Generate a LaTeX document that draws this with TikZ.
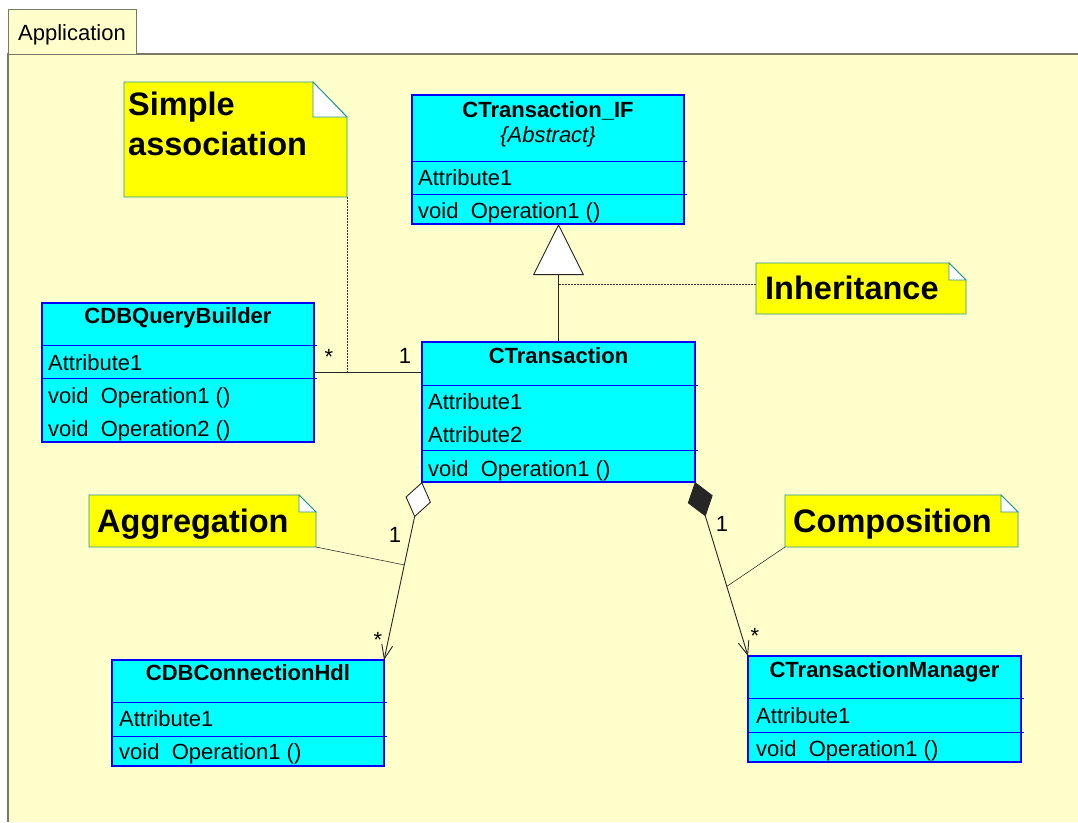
\documentclass[tikz,border=0pt]{standalone}
\usepackage{fontspec}
\setmainfont{Liberation Sans}
\usetikzlibrary{arrows.meta,calc}
\definecolor{pkgfill}{RGB}{255,255,204}
\definecolor{pkgline}{RGB}{120,120,104}
\definecolor{notefill}{RGB}{255,255,0}
\definecolor{noteedge}{RGB}{40,150,150}
\definecolor{classfill}{RGB}{0,255,255}
\definecolor{classedge}{RGB}{0,0,255}
\tikzset{
  classbox/.style={draw=classedge,fill=classfill,line width=1.2pt,inner sep=0pt,outer sep=0pt,anchor=north west},
  divider/.style={draw=classedge,line width=1pt},
  notebox/.style={inner sep=0pt,outer sep=0pt,anchor=north west},
  noteshape/.style={fill=notefill,draw=noteedge,line width=0.9pt},
  foldshape/.style={fill=white,draw=noteedge,line width=0.9pt},
  member/.style={inner sep=0pt,anchor=base west,font=\fontsize{22}{26}\selectfont},
  classname/.style={inner sep=0pt,anchor=base,font=\fontsize{22}{26}\selectfont\bfseries},
  notetext/.style={inner sep=0pt,anchor=base west,align=left,font=\fontsize{32.5}{40}\selectfont\bfseries},
  mult/.style={inner sep=0pt,anchor=base,font=\fontsize{22}{26}\selectfont},
  assoc/.style={draw=black!85,line width=0.9pt},
  noteline/.style={draw=black!80,line width=0.6pt},
  dashline/.style={draw=black!80,line width=0.6pt,dash pattern=on 2pt off 1pt},
}
\begin{document}
\begin{tikzpicture}[x=1pt,y=-1pt]
\useasboundingbox (0,0) rectangle (1078,822);
\fill[pkgfill] (8,54) rectangle (1078,822);
\draw[pkgline,line width=1.6pt] (1078,54) -- (8,54) -- (8,822);
\node[draw=pkgline,fill=pkgfill,line width=1pt,inner sep=0pt,anchor=north west,minimum width=128pt,minimum height=45pt] (tab) at (8,9) {};
\node[member] (tabtext) at (18,40) {Application};

\node[notebox,minimum width=223pt,minimum height=115pt] (simple) at (124,82) {};
\filldraw[noteshape] (simple.north west) -- ([xshift=-34pt]simple.north east) -- ([yshift=-35pt]simple.north east) -- (simple.south east) -- (simple.south west) -- cycle;
\filldraw[foldshape] ([xshift=-34pt]simple.north east) -- ([xshift=-34pt,yshift=-35pt]simple.north east) -- ([yshift=-35pt]simple.north east) -- cycle;
\node[notetext,anchor=north west] (simpletext) at (128,92) {Simple\\association};

\node[notebox,minimum width=210pt,minimum height=51pt] (inh) at (756,263) {};
\filldraw[noteshape] (inh.north west) -- ([xshift=-17pt]inh.north east) -- ([yshift=-17pt]inh.north east) -- (inh.south east) -- (inh.south west) -- cycle;
\filldraw[foldshape] ([xshift=-17pt]inh.north east) -- ([xshift=-17pt,yshift=-17pt]inh.north east) -- ([yshift=-17pt]inh.north east) -- cycle;
\node[notetext] (inhtext) at (765,299) {Inheritance};

\node[notebox,minimum width=227pt,minimum height=52pt] (agg) at (89,495) {};
\filldraw[noteshape] (agg.north west) -- ([xshift=-17pt]agg.north east) -- ([yshift=-17pt]agg.north east) -- (agg.south east) -- (agg.south west) -- cycle;
\filldraw[foldshape] ([xshift=-17pt]agg.north east) -- ([xshift=-17pt,yshift=-17pt]agg.north east) -- ([yshift=-17pt]agg.north east) -- cycle;
\node[notetext] (aggtext) at (97,532) {Aggregation};

\node[notebox,minimum width=233pt,minimum height=52pt] (comp) at (785,495) {};
\filldraw[noteshape] (comp.north west) -- ([xshift=-17pt]comp.north east) -- ([yshift=-17pt]comp.north east) -- (comp.south east) -- (comp.south west) -- cycle;
\filldraw[foldshape] ([xshift=-17pt]comp.north east) -- ([xshift=-17pt,yshift=-17pt]comp.north east) -- ([yshift=-17pt]comp.north east) -- cycle;
\node[notetext] (comptext) at (793,532) {Composition};

\node[classbox,minimum width=272pt,minimum height=129pt] (ctif) at (412,95) {};
\draw[divider] (412,161) -- (687,161);
\draw[divider] (412,194) -- (687,194);
\node[classname] (ctifname) at (548,117) {CTransaction\_IF};
\node[mult,font=\fontsize{22}{26}\selectfont\itshape] (ctifabs) at (548,142) {\{Abstract\}};
\node[member] (ctifattr) at (418,185) {Attribute1};
\node[member] (ctifop) at (418,218) {void\ \ Operation1 ()};

\node[classbox,minimum width=273pt,minimum height=140pt] (ctrans) at (422,342) {};
\draw[divider] (422,385) -- (698,385);
\draw[divider] (422,450) -- (698,450);
\node[classname] (ctransname) at (558.5,363) {CTransaction};
\node[member] (ctransattra) at (428,409) {Attribute1};
\node[member] (ctransattrb) at (428,442) {Attribute2};
\node[member] (ctransop) at (428,476) {void\ \ Operation1 ()};

\node[classbox,minimum width=272pt,minimum height=139pt] (cdbq) at (42,303) {};
\draw[divider] (42,345) -- (317,345);
\draw[divider] (42,378) -- (317,378);
\node[classname] (cdbqname) at (178,323) {CDBQueryBuilder};
\node[member] (cdbqattr) at (48,370) {Attribute1};
\node[member] (cdbqopa) at (48,403) {void\ \ Operation1 ()};
\node[member] (cdbqopb) at (48,436) {void\ \ Operation2 ()};

\node[classbox,minimum width=272pt,minimum height=106pt] (cdbconn) at (112,660) {};
\draw[divider] (112,702) -- (387,702);
\draw[divider] (112,736) -- (387,736);
\node[classname] (cdbconnname) at (248,680) {CDBConnectionHdl};
\node[member] (cdbconnattr) at (119,726) {Attribute1};
\node[member] (cdbconnop) at (119,759) {void\ \ Operation1 ()};

\node[classbox,minimum width=273pt,minimum height=106pt] (ctmgr) at (748,656) {};
\draw[divider] (748,698) -- (1024,698);
\draw[divider] (748,732) -- (1024,732);
\node[classname] (ctmgrname) at (884.5,677) {CTransactionManager};
\node[member] (ctmgrattr) at (756,723) {Attribute1};
\node[member] (ctmgrop) at (756,756) {void\ \ Operation1 ()};

\draw[assoc,-{Triangle[length=51pt,width=51pt,fill=white]}] (ctrans.north) -- (ctrans.north |- ctif.south);
\coordinate (inhjoin) at (558.5,284);
\draw[dashline] (inhjoin) -- (inhjoin -| inh.west);

\draw[assoc] (cdbq.east) -- (cdbq.east -| ctrans.west);
\draw[dashline] (simple.south east) -- (simple.south east |- cdbq.east);
\node[mult] (assocmany) at (329,364) {*};
\node[mult] (assocone) at (405,363) {1};

\draw[assoc,{Diamond[length=36pt,width=26pt,fill=white]}-{Straight Barb[length=14pt,width=11pt]}] (ctrans.south west) -- (cdbconn.north east);
\draw[noteline] (agg.south east) -- ($(ctrans.south west)!0.466!(cdbconn.north east)$);
\node[mult] (aggone) at (395,542) {1};
\node[mult] (aggmany) at (378,647) {*};

\draw[assoc,{Diamond[length=36pt,width=26pt]}-{Straight Barb[length=14pt,width=11pt]}] (ctrans.south east) -- (ctmgr.north west);
\draw[noteline] (comp.south west) -- ($(ctrans.south east)!0.6!(ctmgr.north west)$);
\node[mult] (compone) at (722,531) {1};
\node[mult] (compmany) at (755,643) {*};
\end{tikzpicture}
\end{document}
